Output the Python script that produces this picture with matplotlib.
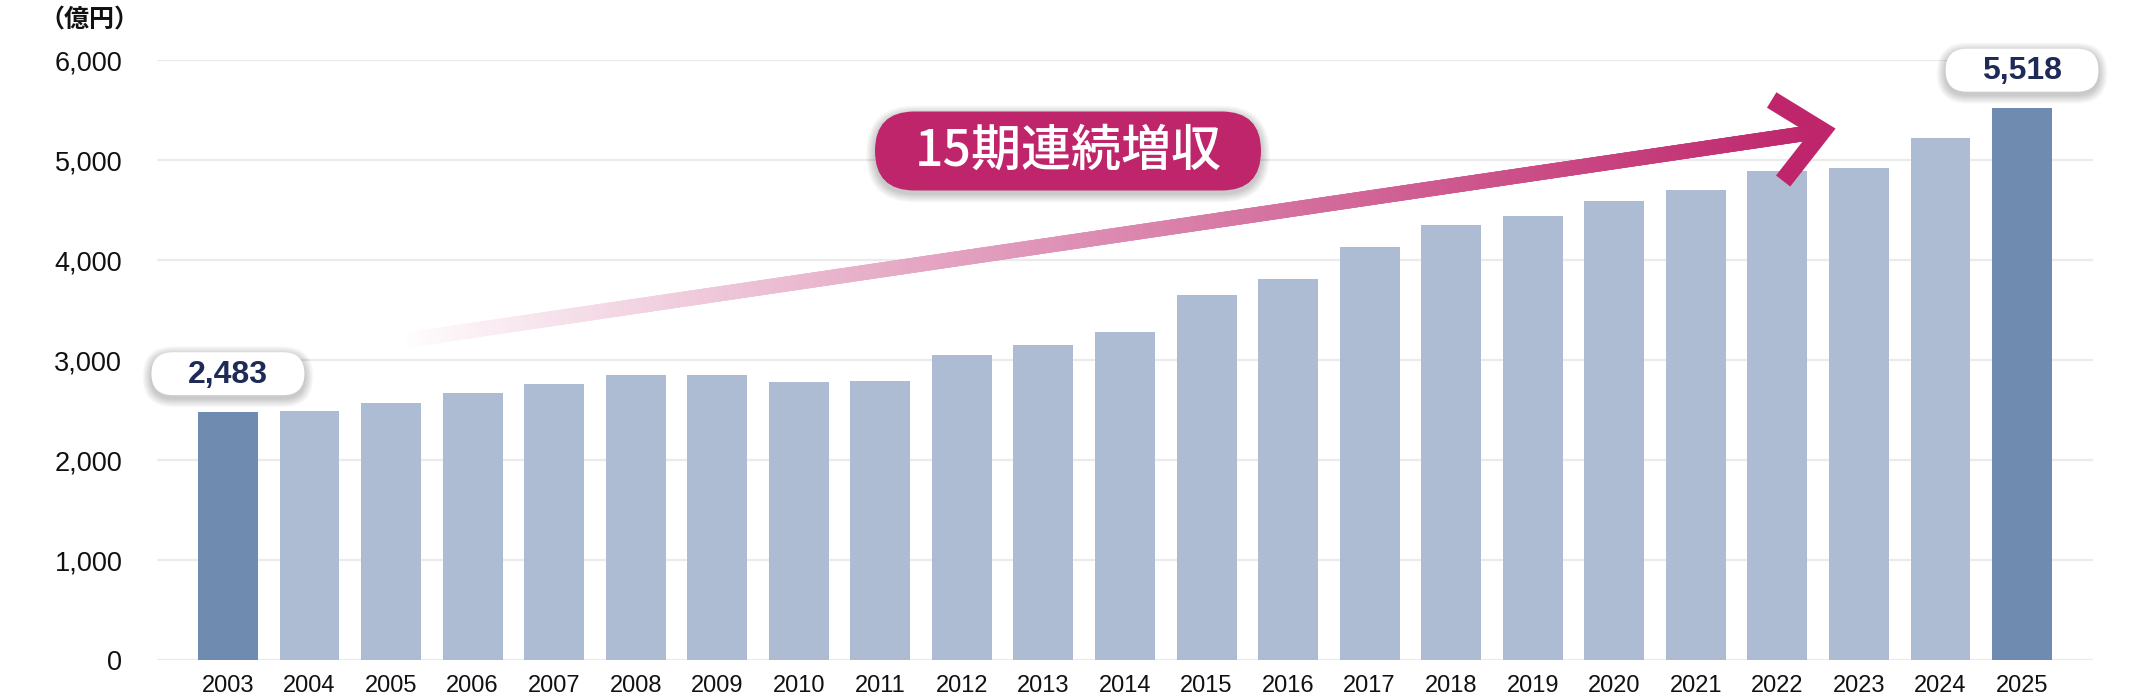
import matplotlib
matplotlib.use('Agg')
import matplotlib.pyplot as plt
import matplotlib.transforms as mtransforms
import numpy as np
from matplotlib.collections import LineCollection
from matplotlib.colors import to_rgb
from matplotlib.patches import FancyBboxPatch

plt.rcParams['font.family'] = ['Liberation Sans', 'Noto Sans CJK JP', 'DejaVu Sans']

years = [str(y) for y in range(2003, 2026)]
revenue = [2483, 2495, 2575, 2675, 2765, 2850, 2850, 2785, 2795, 3050, 3155, 3280,
           3655, 3815, 4130, 4355, 4440, 4595, 4700, 4890, 4920, 5220, 5518]
highlight = [0, len(years) - 1]
yticks = [0, 1000, 2000, 3000, 4000, 5000, 6000]
unit_label = '（億円）'
badge_text = '15期連続増収'

BAR = '#aebcd3'
BAR_HI = '#6f8cb0'
MAGENTA = '#be256b'
NAVY = '#1f2b57'

W, H = 2140, 700
fig = plt.figure(figsize=(W / 100, H / 100), dpi=100)
ax = fig.add_axes([157 / W, 40 / H, (2093 - 157) / W, 600 / H])

x = np.arange(len(years))
colors = [BAR_HI if i in highlight else BAR for i in range(len(years))]
ax.bar(x, revenue, width=0.735, color=colors, zorder=2)

ax.set_xlim(-0.87, len(years) - 1 + 0.87)
ax.set_ylim(0, 6000)
ax.set_yticks(yticks)
ax.set_yticklabels([f'{v:,}' for v in yticks], fontsize=19.5)
ax.set_xticks(x)
ax.set_xticklabels(years, fontsize=17)
ax.tick_params(axis='both', length=0, colors='#111111')
ax.tick_params(axis='y', pad=25)
ax.tick_params(axis='x', pad=11)
ax.grid(axis='y', color='#ebebeb', linewidth=1.6, zorder=0)
ax.set_axisbelow(True)
for s in ax.spines.values():
    s.set_visible(False)

# gradient arrow shaft (overlapping segments so no seams show)
p0 = np.array([2.2, 3200.0])
p1 = np.array([19.55, 5290.0])
n = 300
ts = np.linspace(0, 1, n + 1)
pts = p0 + (p1 - p0) * ts[:, None]
segs = np.stack([pts[:-3], pts[3:]], axis=1)
c_end = np.array(to_rgb(MAGENTA))
tm = (ts[:-3] + ts[3:]) / 2
seg_colors = [tuple(1 - (1 - c_end) * t ** 0.9) for t in tm]
lc = LineCollection(segs, colors=seg_colors, linewidths=10.8, capstyle='butt', zorder=4)
ax.add_collection(lc)

# arrow head
ax.plot([18.93, 19.55, 19.07], [5600, 5290, 4790], color=MAGENTA, lw=13,
        solid_joinstyle='miter', solid_capstyle='butt', zorder=5)

ident = mtransforms.IdentityTransform()


def draw_pill(cx, cy, w, h, face):
    for k in range(9, 0, -1):
        fig.add_artist(FancyBboxPatch(
            (cx - w / 2 - k, cy - h / 2 - k - 3), w + 2 * k, h + 2 * k,
            boxstyle=f'round,pad=0,rounding_size={(h + 2 * k) / 2}',
            fc='black', ec='none', alpha=0.024, transform=ident, zorder=5))
    fig.add_artist(FancyBboxPatch(
        (cx - w / 2, cy - h / 2), w, h,
        boxstyle=f'round,pad=0,rounding_size={h / 2}',
        fc=face, ec='none', transform=ident, zorder=6))


# badge
bx, by = 1068, H - 151
draw_pill(bx, by, 386, 79, MAGENTA)
fig.text(bx, by - 1, badge_text, transform=ident, ha='center', va='center',
         fontsize=36, color='white', fontweight='medium',
         family=['Noto Sans CJK JP', 'DejaVu Sans'], zorder=7)

# value labels on first and last bar
for i in highlight:
    px, py = ax.transData.transform((x[i], revenue[i]))
    cy = py + 38
    draw_pill(px, cy, 153, 43, 'white')
    fig.text(px, cy - 1, f'{revenue[i]:,}', transform=ident, ha='center', va='center',
             fontsize=23, fontweight='bold', color=NAVY, zorder=7)

fig.text(89, H - 20, unit_label, transform=ident, ha='center', va='center',
         fontsize=18, fontweight='bold', color='#111111',
         family=['Noto Sans CJK JP', 'DejaVu Sans'])

fig.savefig('out.png', dpi=100, facecolor='white')
